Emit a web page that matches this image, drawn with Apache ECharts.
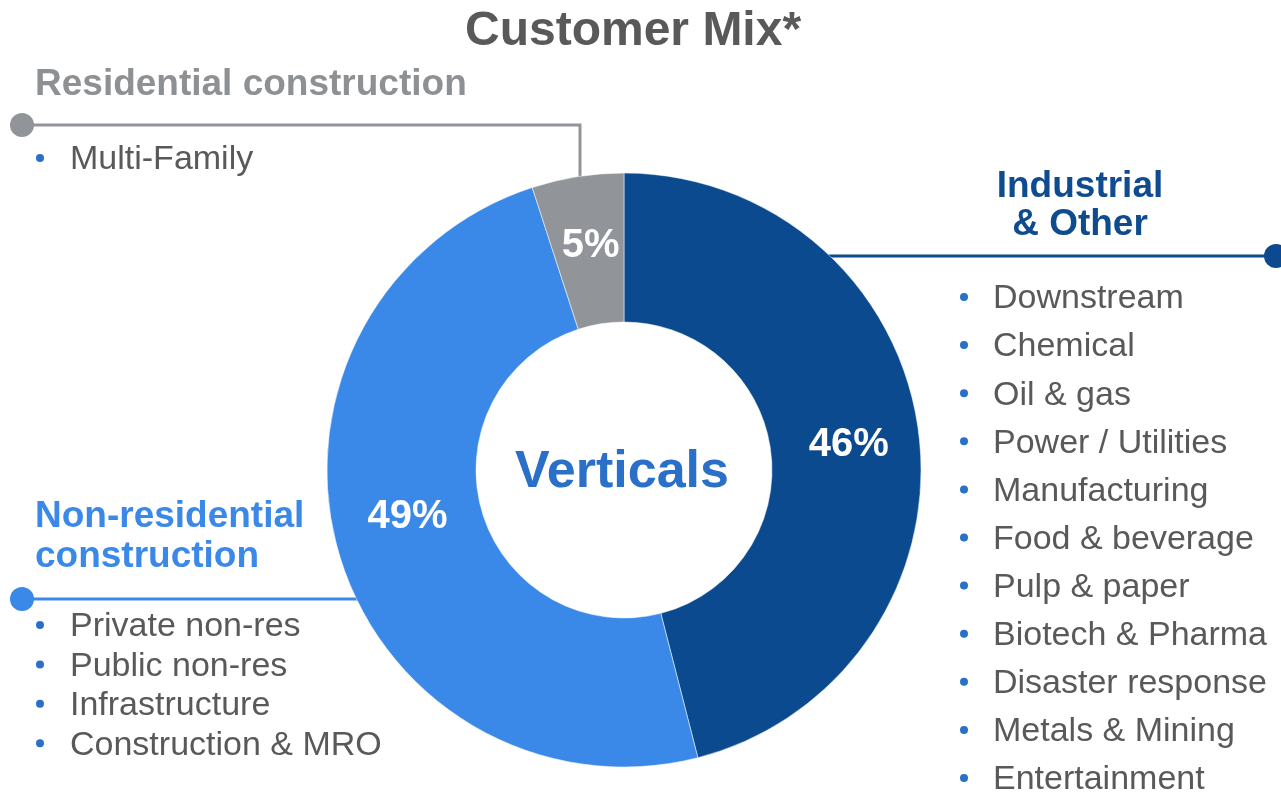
<!DOCTYPE html>
<html>
<head>
    <meta charset="UTF-8">
    <style type="text/css">
        body { margin: 0; padding: 0; overflow: hidden; background: #fff }
        #chart { width: 1281px; height: 793px }
    </style>
</head>
<body>
    <div id="chart"></div>
    <script src="https://cdn.jsdelivr.net/npm/echarts@6/dist/echarts.min.js"></script>
    <script>
        // data
        let SEGMENTS = ['Industrial & Other', 'Non-residential construction', 'Residential construction'];
        let SHARES = [46, 49, 5];
        let INDUSTRIAL_ITEMS = ['Downstream', 'Chemical', 'Oil & gas', 'Power / Utilities', 'Manufacturing',
            'Food & beverage', 'Pulp & paper', 'Biotech & Pharma', 'Disaster response', 'Metals & Mining', 'Entertainment'];
        let NONRES_ITEMS = ['Private non-res', 'Public non-res', 'Infrastructure', 'Construction & MRO'];
        let RES_ITEMS = ['Multi-Family'];

        let COLORS = ['#0B4A8E', '#3A88E8', '#919599'];
        let FONT = 'Arial, "Liberation Sans", sans-serif';
        let TEXT_GREY = '#595959';
        let BULLET = '#2A6FC8';

        var myChart = echarts.init(document.getElementById('chart'));

        function heading(x, y, text, color, align, lh) {
            return {
                type: 'text', x: x, y: y,
                style: {
                    text: text, fill: color, font: 'bold 37px ' + FONT,
                    textAlign: align || 'left', textVerticalAlign: 'middle', lineHeight: lh || 38
                }
            };
        }

        function list(items, bx, tx, y0, step) {
            let els = [];
            items.forEach((t, i) => {
                els.push({
                    type: 'circle', shape: { cx: bx, cy: y0 + i * step, r: 4 },
                    style: { fill: BULLET }
                });
                els.push({
                    type: 'text', x: tx, y: y0 + 2 + i * step,
                    style: { text: t, fill: TEXT_GREY, font: '34px ' + FONT, textVerticalAlign: 'middle' }
                });
            });
            return els;
        }

        function dot(cx, cy, color) {
            return { type: 'circle', shape: { cx: cx, cy: cy, r: 12 }, style: { fill: color } };
        }

        let graphics = [
            // residential
            heading(35, 85, 'Residential construction', '#8E9194'),
            {
                type: 'polyline', shape: { points: [[22, 125], [580, 125], [580, 188]] },
                style: { stroke: COLORS[2], lineWidth: 3, fill: null }
            },
            dot(22, 125, COLORS[2]),
            // industrial
            heading(1080, 206, 'Industrial\n& Other', '#0E4B8F', 'center', 38),
            {
                type: 'line', shape: { x1: 828, y1: 256, x2: 1275, y2: 256 },
                style: { stroke: COLORS[0], lineWidth: 3 }
            },
            dot(1276, 256, COLORS[0]),
            // non-residential
            heading(35, 537, 'Non-residential\nconstruction', COLORS[1], 'left', 40),
            {
                type: 'line', shape: { x1: 22, y1: 599, x2: 358, y2: 599 },
                style: { stroke: COLORS[1], lineWidth: 3 }
            },
            dot(22, 599, COLORS[1]),
            // centre text
            {
                type: 'text', x: 622, y: 473,
                style: {
                    text: 'Verticals', fill: '#2A6FC8', font: 'bold 52px ' + FONT,
                    textAlign: 'center', textVerticalAlign: 'middle'
                }
            }
        ];
        graphics = graphics
            .concat(list(RES_ITEMS, 40, 70, 158, 40))
            .concat(list(INDUSTRIAL_ITEMS, 964, 993, 297, 48.1))
            .concat(list(NONRES_ITEMS, 40, 70, 625, 39.4));

        let option = {
            title: {
                text: 'Customer Mix*',
                left: 460,
                top: 3,
                textStyle: { fontFamily: FONT, fontSize: 48, fontWeight: 'bold', color: TEXT_GREY }
            },
            graphic: graphics,
            series: [
                {
                    type: 'pie',
                    center: [624, 470],
                    radius: [148, 297],
                    startAngle: 90,
                    clockwise: true,
                    animation: false,
                    silent: true,
                    data: SEGMENTS.map((n, i) => ({
                        name: n, value: SHARES[i], itemStyle: { color: COLORS[i] },
                        label: i === 1 ? { offset: [0, -16] } : (i === 2 ? { offset: [2, -1] } : { offset: [1, 3] })
                    })),
                    itemStyle: { borderColor: '#fff', borderWidth: 0.5 },
                    label: {
                        show: true,
                        position: 'inside',
                        formatter: '{c}%',
                        color: '#fff',
                        fontFamily: FONT,
                        fontSize: 40,
                        fontWeight: 'bold'
                    },
                    labelLine: { show: false },
                    emphasis: { disabled: true }
                }
            ]
        };
        myChart.setOption(option);
    </script>
</body>
</html>
